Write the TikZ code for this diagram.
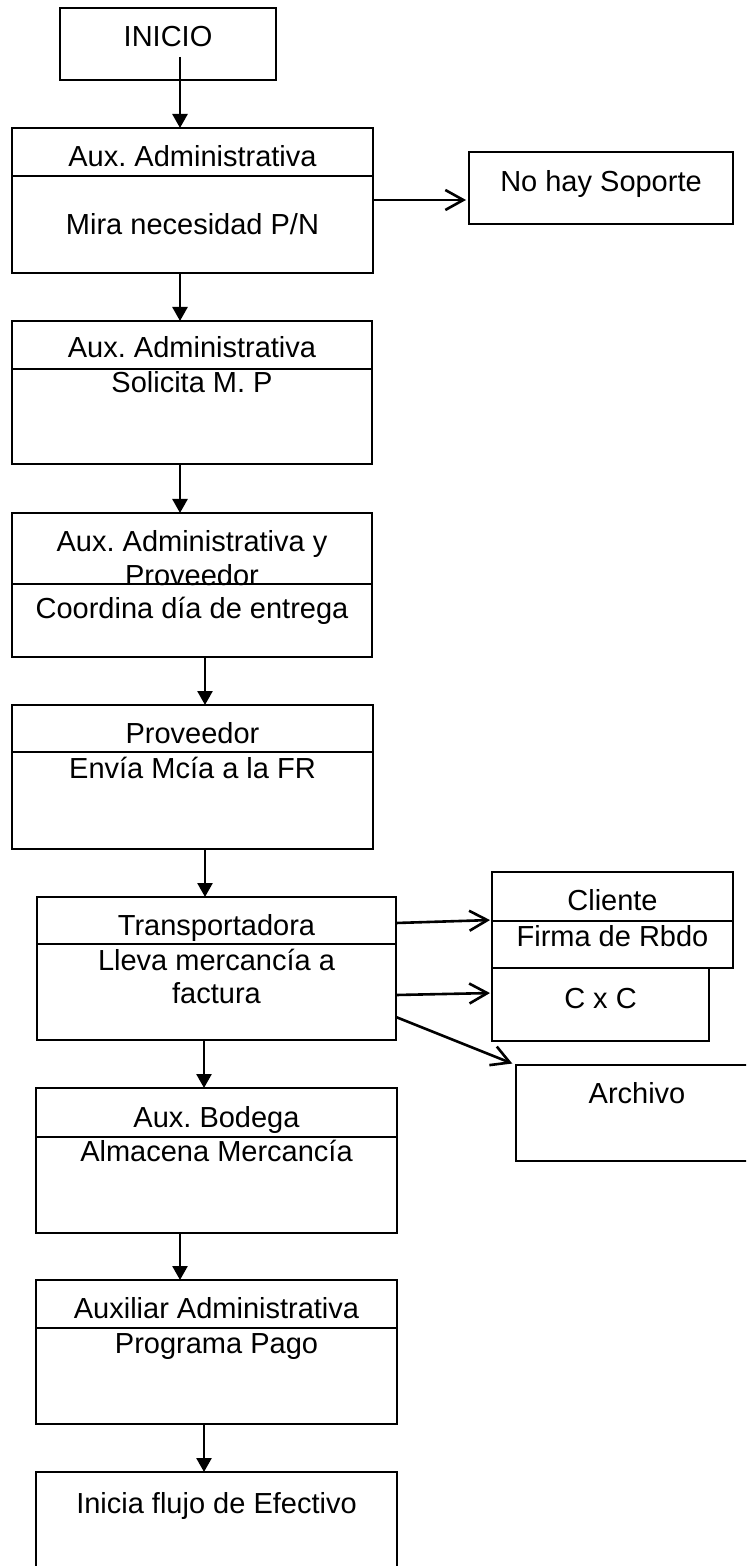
\documentclass[tikz,border=0pt]{standalone}
\usepackage{fontspec}
\setmainfont{Liberation Sans}
\usetikzlibrary{arrows.meta}
\frenchspacing
\begin{document}
\begin{tikzpicture}[x=0.5pt,y=-0.5pt,
  box/.style={draw, line width=1.1pt, rectangle, inner sep=0pt, outer sep=0pt},
  lbl/.style={anchor=base, inner sep=0pt, font=\fontsize{14.5}{16.5}\selectfont},
  flow/.style={line width=1.3pt, -{Triangle[width=7.5pt,length=7pt]}},
  link/.style={line width=1.3pt, -{Straight Barb[width=10pt,length=9pt,line width=1.3pt]}},
  div/.style={line width=1.1pt}]
\clip (0,0) rectangle (746,1566);

% main column of steps
\node[box, minimum width=108pt,   minimum height=36pt]   (ini) at (168,44) {};
\node[box, minimum width=180.5pt, minimum height=72.5pt] (b2)  at (192.5,200.5) {};
\node[box, minimum width=180pt,   minimum height=71.5pt] (b3)  at (192,392.5) {};
\node[box, minimum width=180pt,   minimum height=72pt]   (b4)  at (192,585) {};
\node[box, minimum width=180.5pt, minimum height=72pt]   (b5)  at (192.5,777) {};
\node[box, minimum width=179.5pt, minimum height=71.5pt] (b6)  at (216.5,968.5) {};
\node[box, minimum width=180.5pt, minimum height=72.5pt] (b7)  at (216.5,1160.5) {};
\node[box, minimum width=180.5pt, minimum height=72pt]   (b8)  at (216.5,1352) {};
\node[box, minimum width=180.5pt, minimum height=72pt]   (b9)  at (216.5,1544) {};

% side outcomes
\node[box, minimum width=132pt,   minimum height=36pt]   (nos) at (601,188) {};
\node[box, minimum width=120.5pt, minimum height=48pt]   (cli) at (612.5,920) {};
\node[box, minimum width=108.5pt, minimum height=36.5pt] (cxc) at (600.5,1004.5) {};
\node[box, minimum width=121pt,   minimum height=48pt]   (arc) at (637,1113) {};

% header dividers
\draw[div] ([yshift=-24pt]b2.north west)   -- ([yshift=-24pt]b2.north east);
\draw[div] ([yshift=-24pt]b3.north west)   -- ([yshift=-24pt]b3.north east);
\draw[div] ([yshift=-35.5pt]b4.north west) -- ([yshift=-35.5pt]b4.north east);
\draw[div] ([yshift=-23.5pt]b5.north west) -- ([yshift=-23.5pt]b5.north east);
\draw[div] ([yshift=-23.5pt]b6.north west) -- ([yshift=-23.5pt]b6.north east);
\draw[div] ([yshift=-24.5pt]cli.north west) -- ([yshift=-24.5pt]cli.north east);
\draw[div] ([yshift=-24.5pt]b7.north west) -- ([yshift=-24.5pt]b7.north east);
\draw[div] ([yshift=-24pt]b8.north west)   -- ([yshift=-24pt]b8.north east);

% labels
\node[lbl] (t-ini)  at (168,47)     {INICIO};
\node[lbl] (t-b2a)  at (192.5,167)  {Aux. Administrativa};
\node[lbl] (t-b2b)  at (192.5,235)  {Mira necesidad P/N};
\node[lbl] (t-nos)  at (601,192)    {No hay Soporte};
\node[lbl] (t-b3a)  at (192,358)    {Aux. Administrativa};
\node[lbl] (t-b3b)  at (192,393)    {Solicita M. P};
\node[lbl] (t-b4a)  at (192,552)    {Aux. Administrativa y};
\node[lbl] (t-b4b)  at (192,585)    {Proveedor};
\node[lbl] (t-b4c)  at (192,618)    {Coordina día de entrega};
\node[lbl] (t-b5a)  at (192.5,743)  {Proveedor};
\node[lbl] (t-b5b)  at (192.5,778)  {Envía Mcía a la FR};
\node[lbl] (t-b6a)  at (216.5,935)  {Transportadora};
\node[lbl] (t-b6b)  at (216.5,970)  {Lleva mercancía a};
\node[lbl] (t-b6c)  at (216.5,1003) {factura};
\node[lbl] (t-clia) at (612.5,910)  {Cliente};
\node[lbl] (t-clib) at (612.5,946)  {Firma de Rbdo};
\node[lbl] (t-cxc)  at (600.5,1008) {C x C};
\node[lbl] (t-arc)  at (637,1103)   {Archivo};
\node[lbl] (t-b7a)  at (216.5,1127) {Aux. Bodega};
\node[lbl] (t-b7b)  at (216.5,1161) {Almacena Mercancía};
\node[lbl] (t-b8a)  at (216.5,1318) {Auxiliar Administrativa};
\node[lbl] (t-b8b)  at (216.5,1353) {Programa Pago};
\node[lbl] (t-b9)   at (216.5,1513) {Inicia flujo de Efectivo};

% main flow
\coordinate (ini-out) at (180,57);
\draw[flow] (ini-out) -- (b2.north -| ini-out);
\draw[flow] (b2.south -| 180,0) -- (b3.north -| 180,0);
\draw[flow] (b3.south -| 180,0) -- (b4.north -| 180,0);
\draw[flow] (b4.south -| 205,0) -- (b5.north -| 205,0);
\draw[flow] (b5.south -| 205,0) -- (b6.north -| 205,0);
\draw[flow] (b6.south -| 204,0) -- (b7.north -| 204,0);
\draw[flow] (b7.south -| 180,0) -- (b8.north -| 180,0);
\draw[flow] (b8.south -| 204,0) -- (b9.north -| 204,0);

% branches
\draw[link, shorten >=1.5pt] (b2.east |- 0,200) -- (nos.west |- 0,200);
\draw[link, shorten >=1pt] (b6.east |- 0,923) -- (cli.west |- 0,920);
\draw[link, shorten >=1pt] (b6.east |- 0,995) -- (cxc.west |- 0,993);
\draw[link, shorten >=2pt] (b6.east |- 0,1017) -- (arc.north west);
\end{tikzpicture}
\end{document}
